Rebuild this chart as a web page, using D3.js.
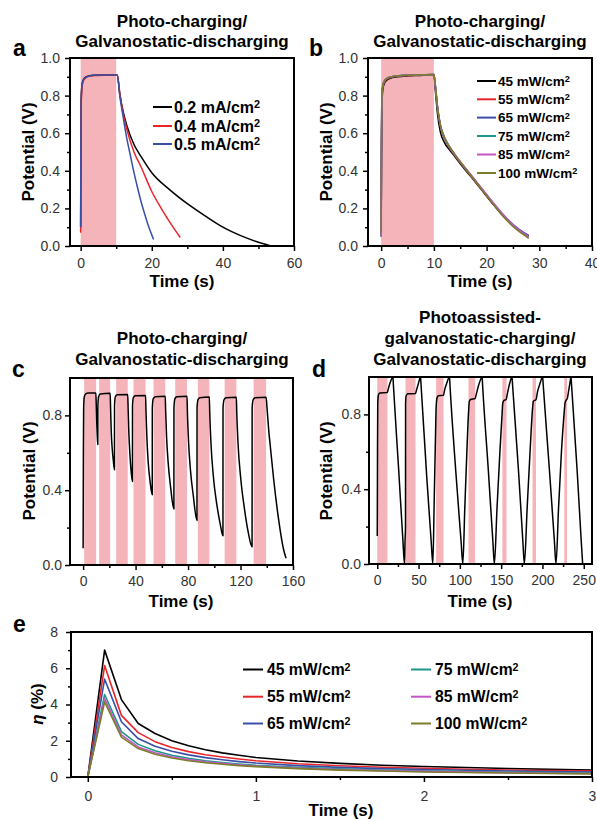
<!DOCTYPE html>
<html>
<head>
<meta charset="utf-8">
<script src="https://cdn.jsdelivr.net/npm/d3@7"></script>
<style>
  body { margin: 0; background: #fff; }
  svg { font-family: Arial, "Liberation Sans", sans-serif; }
  .tick text { font-family: Arial, "Liberation Sans", sans-serif; font-size: 14px; fill: #333; }
  .tick line { stroke: #000; stroke-width: 1.5; }
  .bold { font-weight: bold; }
</style>
</head>
<body>
<svg id="fig" width="597" height="820"></svg>
<script>

// ---------- panel a: photo-charging at three discharge currents ----------
const aLabels = ["0.2 mA/cm", "0.4 mA/cm", "0.5 mA/cm"];
const aTime02 = [0, 0.05, 0.15, 0.4, 0.8, 1.5, 2.5, 4, 7, 10.3, 11, 12, 13, 15, 17, 20, 25, 30, 35, 40, 45, 50, 53.5];
const aV02    = [0.1, 0.5, 0.78, 0.86, 0.885, 0.9, 0.905, 0.908, 0.91, 0.91, 0.81, 0.71, 0.64, 0.54, 0.475, 0.39, 0.3, 0.225, 0.16, 0.1, 0.055, 0.02, 0.0];
const aTime04 = [0, 0.05, 0.15, 0.4, 0.8, 1.5, 2.5, 4, 7, 10.3, 11, 12, 13, 15, 17, 20, 23, 26, 28];
const aV04    = [0.07, 0.45, 0.75, 0.85, 0.88, 0.895, 0.903, 0.907, 0.909, 0.91, 0.81, 0.7, 0.62, 0.5, 0.42, 0.29, 0.19, 0.1, 0.045];
const aTime05 = [0, 0.05, 0.15, 0.4, 0.8, 1.5, 2.5, 4, 7, 10.3, 11, 12, 13, 14, 15, 16, 17, 18, 19, 20.5];
const aV05    = [0.1, 0.5, 0.78, 0.86, 0.885, 0.898, 0.905, 0.908, 0.91, 0.91, 0.8, 0.68, 0.57, 0.48, 0.39, 0.31, 0.235, 0.17, 0.11, 0.035];
const aLight  = [[0, 10]];

// ---------- panel b: photo-charging at six light intensities ----------
const intensLabels = ["45 mW/cm", "55 mW/cm", "65 mW/cm", "75 mW/cm", "85 mW/cm", "100 mW/cm"];
const bTime = [0, 0.05, 0.15, 0.3, 0.6, 1, 2, 3, 5, 7, 10, 10.3, 10.7, 11.2, 12, 13, 14, 15.5, 17, 19, 21, 23, 25, 27, 28];
const bV45  = [0.05, 0.45, 0.76, 0.83, 0.865, 0.88, 0.895, 0.9, 0.905, 0.907, 0.91, 0.82, 0.7, 0.61, 0.55, 0.51, 0.475, 0.42, 0.37, 0.3, 0.23, 0.165, 0.11, 0.07, 0.055];
const bV55  = [0.06, 0.5, 0.79, 0.845, 0.872, 0.886, 0.898, 0.903, 0.907, 0.909, 0.912, 0.84, 0.73, 0.64, 0.57, 0.52, 0.48, 0.425, 0.372, 0.302, 0.232, 0.165, 0.108, 0.066, 0.05];
const bV65  = [0.06, 0.5, 0.8, 0.85, 0.875, 0.888, 0.9, 0.904, 0.908, 0.91, 0.912, 0.845, 0.735, 0.645, 0.575, 0.525, 0.485, 0.43, 0.378, 0.308, 0.238, 0.172, 0.115, 0.072, 0.055];
const bV75  = [0.05, 0.52, 0.8, 0.85, 0.876, 0.889, 0.9, 0.904, 0.908, 0.91, 0.912, 0.845, 0.735, 0.645, 0.575, 0.523, 0.483, 0.428, 0.375, 0.305, 0.235, 0.168, 0.11, 0.066, 0.048];
const bV85  = [0.05, 0.5, 0.8, 0.852, 0.877, 0.89, 0.9, 0.905, 0.908, 0.91, 0.912, 0.848, 0.738, 0.648, 0.578, 0.527, 0.487, 0.432, 0.38, 0.31, 0.24, 0.172, 0.113, 0.068, 0.05];
const bV100 = [0.07, 0.55, 0.81, 0.855, 0.878, 0.89, 0.901, 0.905, 0.908, 0.91, 0.912, 0.85, 0.74, 0.65, 0.58, 0.528, 0.486, 0.43, 0.376, 0.304, 0.232, 0.162, 0.104, 0.06, 0.04];
const bLight = [[0, 10]];

// ---------- panel c: repeated photo-charging / discharging ----------
const cTime = [0, 0.2, 0.4, 0.9, 2, 4, 9.7, 10.0, 10.4, 10.8, 11.2, 11.25, 11.8, 13, 20.6,
  20.9, 21.4, 22.2, 23, 23.9, 23.95, 24.6, 26, 34, 34.3, 34.8, 35.6, 36.6, 37.6, 37.65, 38.3, 39.8, 47.6,
  47.9, 48.5, 49.5, 51, 52.7, 52.75, 53.5, 55, 62.6, 62.9, 63.6, 64.8, 66.8, 69.2, 69.25, 70, 71.5, 79.2,
  79.5, 80.3, 81.8, 84, 86.8, 86.85, 87.6, 89, 96.2, 96.5, 97.4, 99.2, 102, 104.5, 106.6, 106.65, 107.5, 109, 116.8,
  117.1, 118.1, 120.2, 123, 126, 128.8, 128.85, 129.7, 131.2, 139.5, 140.2, 141.5, 142.7, 145.3, 149.1, 152.9, 154.7];
const cV = [0.089, 0.6, 0.84, 0.9, 0.915, 0.92, 0.92, 0.86, 0.76, 0.69, 0.644, 0.85, 0.9, 0.915, 0.918,
  0.85, 0.72, 0.62, 0.56, 0.51, 0.85, 0.9, 0.91, 0.912, 0.84, 0.72, 0.6, 0.5, 0.447, 0.85, 0.895, 0.905, 0.907,
  0.83, 0.7, 0.56, 0.45, 0.376, 0.84, 0.89, 0.9, 0.903, 0.83, 0.69, 0.55, 0.41, 0.30, 0.84, 0.89, 0.9, 0.902,
  0.82, 0.67, 0.51, 0.37, 0.238, 0.84, 0.885, 0.895, 0.898, 0.82, 0.66, 0.48, 0.32, 0.22, 0.156, 0.84, 0.885, 0.895, 0.897,
  0.82, 0.65, 0.46, 0.3, 0.17, 0.098, 0.84, 0.885, 0.895, 0.897, 0.84, 0.72, 0.635, 0.456, 0.24, 0.08, 0.036];
const cLight = [[0.8, 9.9], [12.2, 20.6], [25.2, 34], [38.4, 47.6], [53.7, 62.6], [70.2, 79.2], [87.5, 96.2], [107.9, 116.8], [130, 139.5]];

// ---------- panel d: photoassisted galvanostatic charging ----------
const dTime = [0, 0.3, 0.6, 1.5, 3, 12.1, 13, 14.5, 16.5, 19, 19.5, 26, 31, 33,
  33.6, 34.2, 34.3, 35, 37, 46.3, 47.5, 49.5, 52.4, 53, 60, 65.3, 67.3,
  69, 70.6, 71.3, 72.5, 74, 80.2, 81.5, 84, 87.5, 88, 95, 101.5, 103.6,
  106, 108.5, 110.4, 111.5, 113, 118.5, 120, 123, 127, 127.5, 134.5, 140, 141.8,
  145, 148.5, 151.1, 152, 153.5, 156, 157.5, 160, 163.2, 163.8, 171, 176.3, 178.1,
  181.5, 185, 188.2, 189, 192.3, 194, 197, 200.3, 200.9, 208.5, 214.5, 216.4,
  219.5, 223, 226.5, 227.3, 228.5, 230.1, 231.5, 233, 234.6, 235.2, 242, 247, 248.7];
const dV = [0.15, 0.6, 0.86, 0.905, 0.915, 0.917, 0.93, 0.955, 0.98, 1.0, 0.96, 0.5, 0.13, 0,
  0.12, 0.2, 0.86, 0.9, 0.91, 0.912, 0.93, 0.96, 1.0, 0.96, 0.46, 0.12, 0,
  0.35, 0.7, 0.84, 0.89, 0.9, 0.902, 0.93, 0.965, 1.0, 0.96, 0.5, 0.12, 0,
  0.3, 0.6, 0.8, 0.87, 0.88, 0.885, 0.91, 0.96, 1.0, 0.96, 0.5, 0.12, 0,
  0.3, 0.6, 0.8, 0.86, 0.875, 0.88, 0.91, 0.96, 1.0, 0.96, 0.5, 0.12, 0,
  0.3, 0.6, 0.84, 0.87, 0.88, 0.92, 0.965, 1.0, 0.96, 0.5, 0.12, 0,
  0.3, 0.6, 0.82, 0.86, 0.875, 0.885, 0.92, 0.96, 1.0, 0.96, 0.5, 0.12, 0];
const dLight = [[0, 12.3], [34.2, 46.3], [71.3, 80.2], [110.5, 118.5], [151.5, 156.5], [188, 192.2], [226.5, 229.8]];

// ---------- panel e: efficiency vs time ----------
const eTime = [0, 0.1, 0.2, 0.3, 0.4, 0.5, 0.6, 0.7, 0.8, 0.9, 1.0, 1.25, 1.5, 1.75, 2.0, 2.25, 2.5, 2.75, 3.0];
const eEta45  = [0, 7.0, 4.27, 2.95, 2.4, 2.0, 1.72, 1.5, 1.33, 1.2, 1.08, 0.88, 0.75, 0.65, 0.58, 0.52, 0.47, 0.42, 0.38];
const eEta55  = [0, 6.15, 3.4, 2.45, 1.95, 1.63, 1.4, 1.23, 1.1, 0.99, 0.9, 0.73, 0.62, 0.54, 0.48, 0.43, 0.39, 0.36, 0.33];
const eEta65  = [0, 5.4, 3.05, 2.12, 1.7, 1.42, 1.22, 1.07, 0.95, 0.85, 0.77, 0.63, 0.53, 0.46, 0.41, 0.37, 0.33, 0.3, 0.27];
const eEta75  = [0, 4.55, 2.5, 1.8, 1.45, 1.2, 1.03, 0.9, 0.8, 0.72, 0.65, 0.53, 0.45, 0.39, 0.34, 0.3, 0.27, 0.24, 0.22];
const eEta85  = [0, 4.33, 2.32, 1.66, 1.34, 1.12, 0.96, 0.84, 0.75, 0.67, 0.61, 0.49, 0.41, 0.35, 0.31, 0.27, 0.24, 0.21, 0.19];
const eEta100 = [0, 4.14, 2.2, 1.57, 1.26, 1.05, 0.9, 0.79, 0.7, 0.63, 0.57, 0.46, 0.38, 0.33, 0.28, 0.25, 0.22, 0.19, 0.17];

const seriesColors = ["#000000", "#e8262a", "#3a4ea6", "#1a968c", "#c457c4", "#7c7c2a"];
const pink = "#f5b4b9";

const svg = d3.select("#fig");
let clipCount = 0;

// build one framed panel with scales, ticks and clip
function makePanel(o) {
    let p = {};
    p.g = svg.append("g");
    p.x = d3.scaleLinear().domain(o.xDomain).range([o.left, o.right]);
    p.y = d3.scaleLinear().domain(o.yDomain).range([o.bottom, o.top]);

    let id = "clip" + (clipCount++);
    p.g.append("clipPath").attr("id", id)
        .append("rect")
        .attr("x", o.left).attr("y", o.top)
        .attr("width", o.right - o.left).attr("height", o.bottom - o.top);

    p.bands = p.g.append("g");
    p.plot = p.g.append("g").attr("clip-path", `url(#${id})`);
    p.o = o;
    return p;
}

function finishPanel(p) {
    let o = p.o;
    // frame
    p.g.append("rect")
        .attr("x", o.left).attr("y", o.top)
        .attr("width", o.right - o.left).attr("height", o.bottom - o.top)
        .attr("fill", "none").attr("stroke", "#000").attr("stroke-width", 2);

    // x axis major + minor
    p.g.append("g").attr("transform", `translate(0,${o.bottom})`)
        .call(d3.axisBottom(p.x).tickValues(o.xMajor).tickSize(5).tickPadding(o.xPad).tickFormat(o.xFmt))
        .call(g => g.select(".domain").remove());
    p.g.append("g").attr("transform", `translate(0,${o.bottom})`)
        .call(d3.axisBottom(p.x).tickValues(o.xMinor).tickSize(3).tickFormat(""))
        .call(g => g.select(".domain").remove());

    // y axis major + minor
    p.g.append("g").attr("transform", `translate(${o.left},0)`)
        .call(d3.axisLeft(p.y).tickValues(o.yMajor).tickSize(5).tickPadding(o.yPad).tickFormat(o.yFmt))
        .call(g => g.select(".domain").remove());
    p.g.append("g").attr("transform", `translate(${o.left},0)`)
        .call(d3.axisLeft(p.y).tickValues(o.yMinor).tickSize(3).tickFormat(""))
        .call(g => g.select(".domain").remove());
}

function drawBands(p, bands) {
    p.bands.selectAll("rect")
        .data(bands)
        .enter().append("rect")
        .attr("x", d => p.x(d[0]))
        .attr("width", d => p.x(d[1]) - p.x(d[0]))
        .attr("y", p.o.top)
        .attr("height", p.o.bottom - p.o.top)
        .attr("fill", pink);
}

function drawLine(p, xs, ys, color, width) {
    let pts = d3.zip(xs, ys);
    let line = d3.line()
        .x(d => p.x(d[0]))
        .y(d => p.y(d[1]))
        .curve(d3.curveMonotoneX);
    p.plot.append("path")
        .datum(pts)
        .attr("d", line)
        .attr("fill", "none")
        .attr("stroke", color)
        .attr("stroke-width", width || 1.5)
        .attr("stroke-linejoin", "round");
}

function straightLine(p, xs, ys, color) {
    let pts = d3.zip(xs, ys);
    let line = d3.line().x(d => p.x(d[0])).y(d => p.y(d[1]));
    p.plot.append("path")
        .datum(pts)
        .attr("d", line)
        .attr("fill", "none")
        .attr("stroke", color)
        .attr("stroke-width", 1.6)
        .attr("stroke-linejoin", "round");
}

// legend entry with "cm²" superscript
function legendItem(x0, x1, tx, y, label, color, size) {
    svg.append("line")
        .attr("x1", x0).attr("x2", x1).attr("y1", y).attr("y2", y)
        .attr("stroke", color).attr("stroke-width", 2);
    let t = svg.append("text")
        .attr("class", "bold")
        .attr("x", tx).attr("y", y)
        .attr("dy", "0.36em")
        .attr("font-size", size)
        .text(label);
    t.append("tspan")
        .attr("dy", "-0.42em")
        .attr("font-size", "0.68em")
        .text("2");
}

function textAt(x, y, str, size, anchor, rotate) {
    let t = svg.append("text")
        .attr("class", "bold")
        .attr("font-size", size)
        .attr("text-anchor", anchor || "middle")
        .text(str);
    if (rotate) {
        t.attr("transform", `translate(${x},${y}) rotate(-90)`).attr("dy", "0.36em");
    } else {
        t.attr("x", x).attr("y", y);
    }
    return t;
}

const f1 = d3.format(".1f");
const fd = d3.format("d");

// ===== panel a =====
let pa = makePanel({
    left: 70, right: 294, top: 58, bottom: 246,
    xDomain: [-3, 60], yDomain: [0, 1],
    xMajor: [0, 20, 40, 60], xMinor: [10, 30, 50],
    yMajor: [0, 0.2, 0.4, 0.6, 0.8, 1.0], yMinor: [0.1, 0.3, 0.5, 0.7, 0.9],
    xFmt: fd, yFmt: f1, xPad: 7, yPad: 5
});
drawBands(pa, aLight);
drawLine(pa, aTime02, aV02, seriesColors[0]);
drawLine(pa, aTime04, aV04, seriesColors[1]);
drawLine(pa, aTime05, aV05, seriesColors[2]);
finishPanel(pa);

// ===== panel b =====
let pb = makePanel({
    left: 368, right: 592, top: 58, bottom: 246,
    xDomain: [-2.5, 40], yDomain: [0, 1],
    xMajor: [0, 10, 20, 30, 40], xMinor: [5, 15, 25, 35],
    yMajor: [0, 0.2, 0.4, 0.6, 0.8, 1.0], yMinor: [0.1, 0.3, 0.5, 0.7, 0.9],
    xFmt: fd, yFmt: f1, xPad: 7, yPad: 5
});
drawBands(pb, bLight);
[bV45, bV55, bV65, bV75, bV85, bV100].forEach((v, i) => drawLine(pb, bTime, v, seriesColors[i]));
finishPanel(pb);

// ===== panel c =====
let pc = makePanel({
    left: 70, right: 293, top: 378, bottom: 565,
    xDomain: [-10, 160], yDomain: [0, 1],
    xMajor: [0, 40, 80, 120, 160], xMinor: [20, 60, 100, 140],
    yMajor: [0, 0.4, 0.8], yMinor: [0.2, 0.6],
    xFmt: fd, yFmt: f1, xPad: 6, yPad: 3
});
drawBands(pc, cLight);
drawLine(pc, cTime, cV, "#000");
finishPanel(pc);

// ===== panel d =====
let pd = makePanel({
    left: 369, right: 592, top: 377, bottom: 564,
    xDomain: [-10, 260], yDomain: [0, 1],
    xMajor: [0, 50, 100, 150, 200, 250], xMinor: [25, 75, 125, 175, 225],
    yMajor: [0, 0.4, 0.8], yMinor: [0.2, 0.6],
    xFmt: fd, yFmt: f1, xPad: 6, yPad: 3
});
drawBands(pd, dLight);
drawLine(pd, dTime, dV, "#000");
finishPanel(pd);

// ===== panel e =====
let pe = makePanel({
    left: 71, right: 592, top: 632, bottom: 777,
    xDomain: [-0.1, 3], yDomain: [0, 8],
    xMajor: [0, 1, 2, 3], xMinor: [0.5, 1.5, 2.5],
    yMajor: [0, 2, 4, 6, 8], yMinor: [1, 3, 5, 7],
    xFmt: fd, yFmt: fd, xPad: 9, yPad: 8
});
[eEta45, eEta55, eEta65, eEta75, eEta85, eEta100].forEach((v, i) => straightLine(pe, eTime, v, seriesColors[i]));
finishPanel(pe);

// ----- titles -----
textAt(182, 27, "Photo-charging/", 17);
textAt(182, 47, "Galvanostatic-discharging", 17);
textAt(480, 27, "Photo-charging/", 17);
textAt(480, 47, "Galvanostatic-discharging", 17);
textAt(182, 344, "Photo-charging/", 17);
textAt(182, 365, "Galvanostatic-discharging", 17);
textAt(480, 323, "Photoassisted-", 17);
textAt(480, 344, "galvanostatic-charging/", 17);
textAt(480, 365, "Galvanostatic-discharging", 17);

// panel letters
textAt(13, 56, "a", 23, "start");
textAt(309, 56, "b", 23, "start");
textAt(12, 377, "c", 23, "start");
textAt(312, 377, "d", 23, "start");
textAt(13, 632, "e", 23, "start");

// axis titles
textAt(28, 152, "Potential (V)", 17, "middle", true);
textAt(326, 152, "Potential (V)", 17, "middle", true);
textAt(29, 471, "Potential (V)", 17, "middle", true);
textAt(326, 471, "Potential (V)", 17, "middle", true);
textAt(182, 287, "Time (s)", 17);
textAt(480, 287, "Time (s)", 17);
textAt(181, 607, "Time (s)", 17);
textAt(480, 607, "Time (s)", 17);
textAt(341, 816, "Time (s)", 17);
let eta = textAt(37, 704, "", 17, "middle", true);
eta.append("tspan").attr("font-style", "italic").text("η");
eta.append("tspan").text(" (%)");

// ----- legends -----
aLabels.forEach((l, i) => legendItem(153, 172, 174, [107, 126, 144][i], l, seriesColors[i], 16));
intensLabels.forEach((l, i) => legendItem(477, 496, 498, [81, 99.3, 117.6, 136, 154.5, 173][i], l, seriesColors[i], 13.5));
intensLabels.forEach((l, i) => {
    let col = Math.floor(i / 3), row = i % 3;
    let x0 = col === 0 ? 243 : 411;
    legendItem(x0, x0 + 20, x0 + 24, [669.5, 696.7, 723.5][row], l, seriesColors[i], 15.7);
});

</script>
</body>
</html>
